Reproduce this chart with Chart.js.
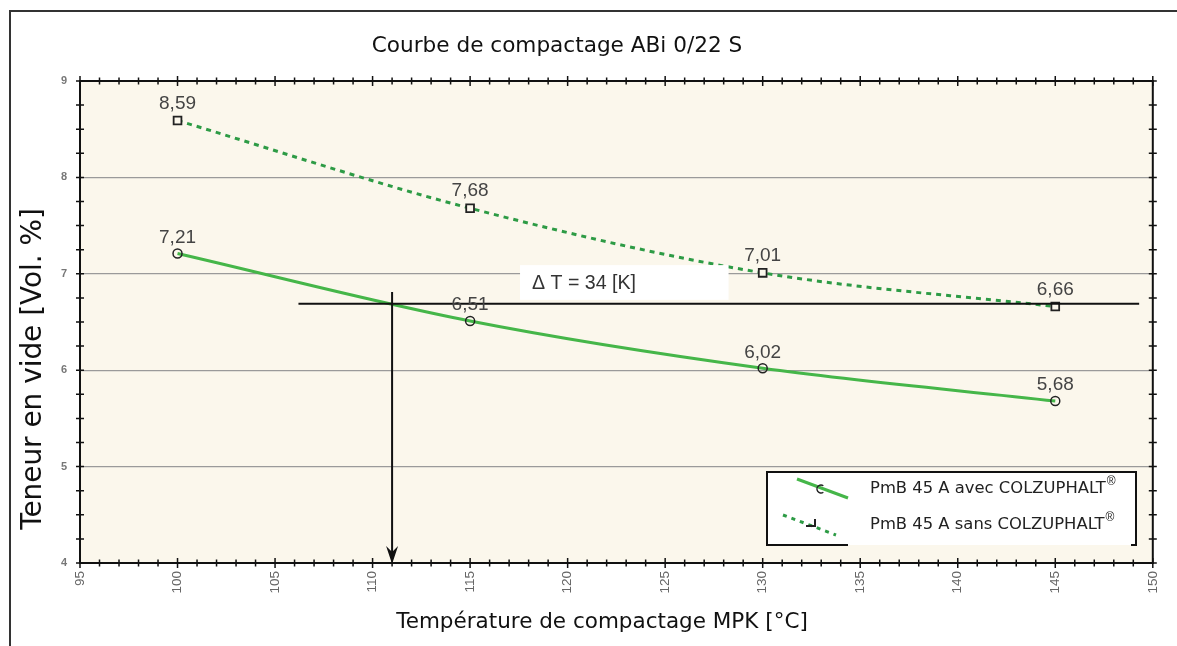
<!DOCTYPE html>
<html>
<head>
<meta charset="utf-8">
<script src="https://cdn.jsdelivr.net/npm/chart.js@4"></script>
<style>
  body { margin: 0; background: #fff; }
  #wrap { position: relative; width: 1177px; height: 646px; }
  #frame { position: absolute; left: 9px; top: 10px; right: -5px; bottom: -5px;
           border-left: 2px solid #333; border-top: 2px solid #333; }
</style>
</head>
<body>
<div id="wrap">
  <canvas id="chart"></canvas>
  <div id="frame"></div>
</div>
<script>
// temperatures (°C)
const temps = [100, 115, 130, 145];
// void content (Vol. %)
const avecValues = [7.21, 6.51, 6.02, 5.68];
const sansValues = [8.59, 7.68, 7.01, 6.66];
const avecLabels = ["7,21", "6,51", "6,02", "5,68"];
const sansLabels = ["8,59", "7,68", "7,01", "6,66"];
const seriesNames = ["PmB 45 A avec COLZUPHALT", "PmB 45 A sans COLZUPHALT"];

// Delta T annotation (data units)
const refLevel = 6.69;
const refFrom = 106.2, refTo = 149.3;
const arrowX = 111, arrowTop = 6.81;
const deltaText = "\u0394 T = 34 [K]";

const titleText = "Courbe de compactage ABi 0/22 S";
const xTitle = "Température de compactage MPK [°C]";
const yTitle = "Teneur en vide [Vol. %]";

const greenSolid = "#45b649";
const greenDot = "#2d9b45";
const cream = "#fbf7ec";
const font = "'Liberation Sans', Arial, sans-serif";
const titleFont = "'DejaVu Sans', Verdana, sans-serif";

// pick a font size so the text fills the given width
function fitFont(ctx, text, family, width) {
    ctx.font = "20px " + family;
    const size = 20 * width / ctx.measureText(text).width;
    ctx.font = size.toFixed(1) + "px " + family;
}

const decor = {
    id: "decor",
    beforeDraw(chart) {
        const { ctx, chartArea: a } = chart;
        ctx.save();
        ctx.fillStyle = cream;
        ctx.fillRect(a.left, a.top, a.right - a.left, a.bottom - a.top);
        ctx.restore();
    },
    afterDatasetsDraw(chart) {
        const { ctx, chartArea: a, scales: { x, y } } = chart;
        ctx.save();

        // white box behind delta T text
        ctx.fillStyle = "#fff";
        const bx1 = x.getPixelForValue(117.56), bx2 = x.getPixelForValue(128.25);
        const by1 = y.getPixelForValue(7.09), by2 = y.getPixelForValue(6.73);
        ctx.fillRect(bx1, by1, bx2 - bx1, by2 - by1);
        ctx.fillStyle = "#333";
        fitFont(ctx, deltaText, font, 104);
        ctx.textBaseline = "middle";
        ctx.textAlign = "left";
        ctx.fillText(deltaText, bx1 + 12, (by1 + by2) / 2 + 1);

        // reference lines
        ctx.strokeStyle = "#111";
        ctx.lineWidth = 2;
        const ry = y.getPixelForValue(refLevel);
        ctx.beginPath();
        ctx.moveTo(x.getPixelForValue(refFrom), ry);
        ctx.lineTo(x.getPixelForValue(refTo), ry);
        const ax = x.getPixelForValue(arrowX);
        ctx.moveTo(ax, y.getPixelForValue(arrowTop));
        ctx.lineTo(ax, a.bottom - 4);
        ctx.stroke();
        ctx.fillStyle = "#111";
        ctx.beginPath();
        ctx.moveTo(ax, a.bottom + 1);
        ctx.lineTo(ax - 6, a.bottom - 17);
        ctx.lineTo(ax, a.bottom - 11);
        ctx.lineTo(ax + 6, a.bottom - 17);
        ctx.closePath();
        ctx.fill();

        // value labels
        ctx.fillStyle = "#444";
        fitFont(ctx, "8,59", font, 37);
        ctx.textAlign = "center";
        ctx.textBaseline = "middle";
        temps.forEach((t, i) => {
            ctx.fillText(avecLabels[i], x.getPixelForValue(t), y.getPixelForValue(avecValues[i]) - 16);
            ctx.fillText(sansLabels[i], x.getPixelForValue(t), y.getPixelForValue(sansValues[i]) - 17);
        });

        // plot border and ticks on all sides
        ctx.strokeStyle = "#111";
        ctx.lineWidth = 2;
        ctx.strokeRect(a.left, a.top, a.right - a.left, a.bottom - a.top);
        ctx.lineWidth = 1.5;
        ctx.beginPath();
        for (let v = 95; v <= 150; v++) {
            const px = x.getPixelForValue(v);
            const len = v % 5 === 0 ? 5 : 3.5;
            ctx.moveTo(px, a.top - len); ctx.lineTo(px, a.top + len);
            ctx.moveTo(px, a.bottom - len); ctx.lineTo(px, a.bottom + len);
        }
        for (let v = 4; v <= 9.001; v += 0.25) {
            const py = y.getPixelForValue(v);
            ctx.moveTo(a.left - 4, py); ctx.lineTo(a.left + 4, py);
            ctx.moveTo(a.right - 4, py); ctx.lineTo(a.right + 4, py);
        }
        ctx.stroke();

        // legend
        const lx = 767, ly = 472, lw = 369, lh = 73;
        ctx.fillStyle = "#fff";
        ctx.fillRect(lx, ly, lw, lh);
        ctx.strokeStyle = "#111";
        ctx.lineWidth = 2;
        ctx.beginPath();
        ctx.moveTo(lx + 81, ly + lh);
        ctx.lineTo(lx, ly + lh);
        ctx.lineTo(lx, ly);
        ctx.lineTo(lx + lw, ly);
        ctx.lineTo(lx + lw, ly + lh);
        ctx.lineTo(lx + lw - 5, ly + lh);
        ctx.stroke();

        ctx.strokeStyle = greenSolid;
        ctx.lineWidth = 3;
        ctx.beginPath();
        ctx.moveTo(797, 479); ctx.lineTo(848, 498);
        ctx.stroke();
        ctx.strokeStyle = greenDot;
        ctx.setLineDash([4, 5]);
        ctx.beginPath();
        ctx.moveTo(783, 515); ctx.lineTo(836, 535);
        ctx.stroke();
        ctx.setLineDash([]);
        ctx.strokeStyle = "#222";
        ctx.lineWidth = 1.5;
        ctx.beginPath();
        ctx.arc(821, 489, 4, 0.3 * Math.PI, 1.7 * Math.PI, false);
        ctx.stroke();
        ctx.lineWidth = 2;
        ctx.beginPath();
        ctx.moveTo(815, 519); ctx.lineTo(815, 526); ctx.lineTo(806, 526);
        ctx.stroke();

        ctx.fillStyle = "#222";
        ctx.textAlign = "left";
        ctx.textBaseline = "middle";
        [[489, seriesNames[0]], [525, seriesNames[1]]].forEach(([ty, txt]) => {
            fitFont(ctx, seriesNames[0], titleFont, 236);
            ctx.fillText(txt, 870, ty);
            const w = ctx.measureText(txt).width;
            ctx.font = "12px " + font;
            ctx.fillText("\u00AE", 870 + w + 1, ty - 7);
        });

        // titles
        ctx.fillStyle = "#111";
        ctx.textAlign = "center";
        fitFont(ctx, titleText, titleFont, 370);
        ctx.fillText(titleText, 557, 46);
        fitFont(ctx, xTitle, titleFont, 411);
        ctx.fillText(xTitle, 602, 622);
        ctx.save();
        ctx.translate(34, 369);
        ctx.rotate(-Math.PI / 2);
        fitFont(ctx, yTitle, titleFont, 322);
        ctx.fillText(yTitle, 0, 0);
        ctx.restore();

        ctx.restore();
    }
};

new Chart(document.getElementById("chart"), {
    type: "line",
    data: {
        datasets: [{
            label: seriesNames[0],
            data: temps.map((t, i) => ({ x: t, y: avecValues[i] })),
            borderColor: greenSolid,
            borderWidth: 3,
            cubicInterpolationMode: "monotone",
            pointStyle: "circle",
            pointRadius: 4.5,
            pointBorderColor: "#222",
            pointBorderWidth: 1.5,
            pointBackgroundColor: "rgba(0,0,0,0)"
        }, {
            label: seriesNames[1],
            data: temps.map((t, i) => ({ x: t, y: sansValues[i] })),
            borderColor: greenDot,
            borderWidth: 3,
            borderDash: [5, 5],
            cubicInterpolationMode: "monotone",
            pointStyle: "rect",
            pointRadius: 5.5,
            pointBorderColor: "#222",
            pointBorderWidth: 1.8,
            pointBackgroundColor: cream
        }]
    },
    options: {
        responsive: true,
        maintainAspectRatio: false,
        animation: false,
        layout: { padding: { left: 10, right: 22, top: 81, bottom: 0 } },
        scales: {
            x: {
                type: "linear",
                min: 95,
                max: 150,
                afterFit: s => { s.height = 83; },
                grid: { display: false, drawTicks: false },
                border: { display: false },
                ticks: {
                    stepSize: 5,
                    minRotation: 90,
                    maxRotation: 90,
                    padding: 8,
                    color: "#666",
                    font: { size: 13.5, family: font }
                }
            },
            y: {
                min: 4,
                max: 9,
                afterFit: s => { s.width = 70; },
                grid: { color: "#9a9a9a", lineWidth: 1.2, drawTicks: false },
                border: { display: false },
                ticks: {
                    stepSize: 1,
                    padding: 13,
                    color: "#777",
                    font: { size: 11, weight: "bold", family: font }
                }
            }
        },
        plugins: {
            legend: { display: false },
            tooltip: { enabled: false }
        }
    },
    plugins: [decor]
});
</script>
</body>
</html>
